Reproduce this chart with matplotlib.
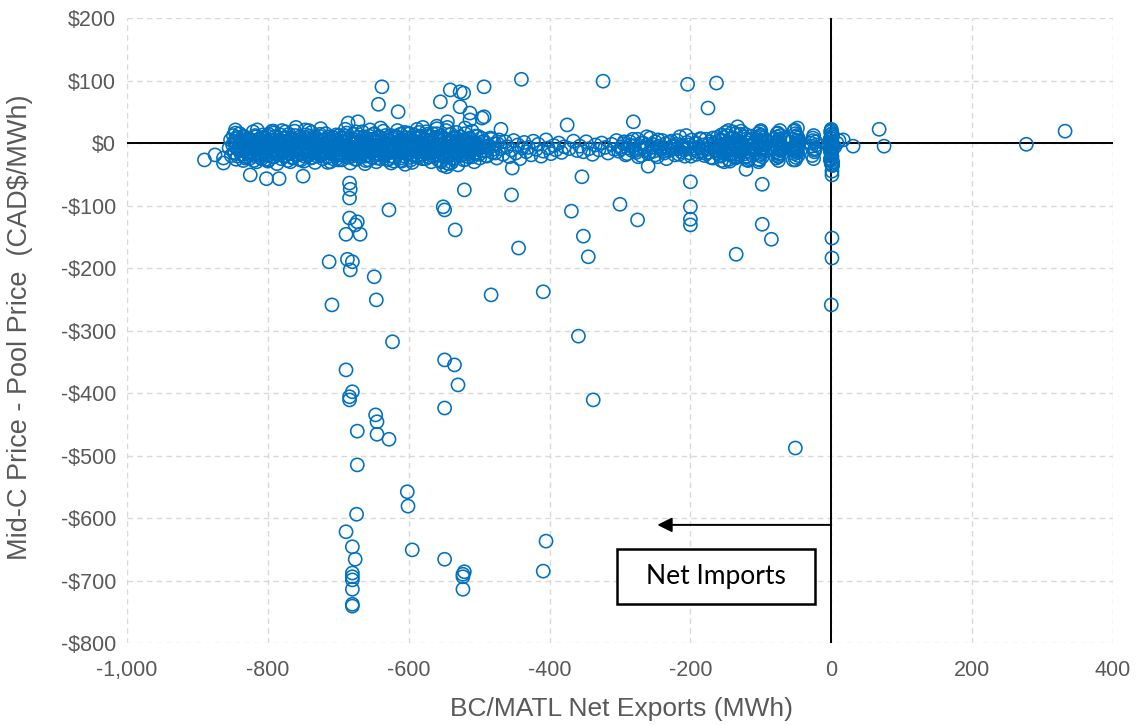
import matplotlib
matplotlib.use("Agg")
import matplotlib.pyplot as plt
from matplotlib.patches import Rectangle
from matplotlib.ticker import FuncFormatter

# scattered hours away from the main band
out_x = [-684, -683, -684, -628, -684, -673, -676, -689, -669, -713,
         -687, -680, -683, -649, -709, -646, -521, -454, -551, -549,
         -534, -444, -483, -409, -623, -689, -549, -535, -530, -549,
         -680, -684, -684, -647, -645, -673, -645, -628, -673, -602,
         -601, -674, -689, -680, -595, -676, -549, -521, -523, -523,
         -523, -680, -680, -680, -680, -680, -680, -405, -409, -369,
         -352, -345, -359, -338, -354, -300, -275, -200, -200, -200,
         -200, -135, -98, -98, -85, -51, 1, 1, 0, -121,
         -260, 1, 1, 1, -453, -890, -875, -863, -863, -846,
         -815, -825, -802, -784, -750, -794, -775, -747, -440, -324,
         -204, -163, -175, -638, -643, -615, -555, -541, -527, -522,
         -493, -527, -513, -496, -513, -469, -672, -686, -375, -281,
         -48, -133, 68, 75, 31, 17, 277, 332, -493, -545,
         -520, -560, -545, 8, 5, 11]
out_y = [-64, -74, -88, -107, -120, -126, -131, -146, -146, -190,
         -186, -190, -203, -214, -259, -251, -75, -83, -102, -107,
         -139, -168, -243, -238, -318, -363, -347, -355, -387, -424,
         -398, -406, -411, -435, -446, -461, -466, -474, -515, -558,
         -581, -594, -622, -646, -651, -666, -666, -686, -690, -694,
         -714, -688, -694, -699, -714, -738, -741, -637, -685, -109,
         -149, -182, -309, -411, -54, -98, -123, -102, -122, -131,
         -62, -178, -66, -130, -154, -488, -152, -184, -259, -42,
         -37, -35, -45, -51, -40, -27, -19, -24, -32, 21,
         21, -51, -57, -57, -53, 19, 18, 21, 102, 99,
         94, 96, 56, 90, 62, 50, 66, 85, 82, 80,
         90, 58, 48, 40, 37, 22, 34, 32, 29, 34,
         24, 26, 22, -5, -5, 5, -2, 19, 42, 34,
         24, 15, 25, 0, -6, 4]

# the dense band of hours close to zero spread
band_x = [-855, -853, -852, -850, -849, -848, -846, -845, -844, -842, -841, -840, -838, -837, -836, -835, -833, -832, -831, -830,
          -829, -828, -826, -825, -824, -823, -821, -820, -819, -817, -816, -815, -814, -812, -811, -810, -809, -807, -806, -805,
          -804, -803, -801, -800, -799, -798, -796, -795, -794, -792, -791, -790, -789, -787, -786, -785, -783, -782, -781, -780,
          -779, -777, -776, -775, -774, -772, -771, -770, -768, -767, -766, -765, -763, -762, -761, -760, -758, -757, -756, -755,
          -754, -752, -751, -750, -749, -747, -746, -745, -743, -742, -741, -740, -738, -737, -736, -735, -733, -732, -731, -730,
          -729, -727, -726, -725, -724, -722, -721, -720, -718, -717, -716, -715, -713, -712, -711, -710, -708, -707, -706, -705,
          -704, -702, -701, -700, -699, -697, -696, -695, -693, -692, -691, -690, -688, -687, -686, -685, -683, -682, -681, -680,
          -679, -677, -676, -675, -674, -672, -671, -670, -668, -667, -666, -665, -663, -662, -661, -660, -658, -657, -656, -655,
          -654, -652, -651, -650, -649, -647, -646, -645, -643, -642, -641, -640, -638, -637, -636, -635, -633, -632, -631, -630,
          -629, -627, -626, -625, -624, -622, -621, -620, -618, -617, -616, -615, -613, -612, -611, -610, -608, -607, -606, -605,
          -604, -602, -601, -600, -599, -597, -596, -595, -593, -592, -591, -590, -588, -587, -586, -585, -583, -582, -581, -580,
          -579, -577, -576, -575, -574, -572, -571, -570, -568, -567, -566, -565, -563, -562, -561, -560, -558, -557, -556, -555,
          -554, -552, -551, -550, -549, -547, -546, -545, -543, -542, -541, -540, -538, -537, -536, -535, -533, -532, -531, -530,
          -529, -527, -525, -524, -522, -520, -519, -517, -515, -514, -512, -510, -509, -507, -505, -504, -502, -501, -499, -497,
          -496, -493, -490, -487, -484, -481, -478, -475, -472, -469, -466, -463, -460, -457, -454, -451, -448, -445, -442, -439,
          -436, -433, -430, -426, -423, -419, -416, -412, -409, -405, -402, -398, -394, -391, -387, -383, -379, -372, -366, -361,
          -357, -352, -348, -344, -339, -335, -330, -326, -321, -317, -312, -308, -305, -302, -298, -295, -292, -289, -286, -283,
          -280, -277, -275, -272, -270, -267, -265, -262, -260, -257, -255, -252, -250, -247, -245, -242, -240, -237, -235, -232,
          -230, -227, -225, -222, -220, -218, -215, -213, -210, -208, -205, -203, -201, -198, -196, -193, -191, -188, -186, -184,
          -182, -180, -178, -176, -174, -172, -170, -168, -166, -164, -162, -160, -158, -156, -154, -152, -150, -148, -146, -144,
          -143, -141, -139, -137, -135, -133, -131, -129, -127, -125, -123, -121, -119, -117, -115, -113, -111, -140, -132, -124,
          -104, -102, -100, -98, -96, -103, -101, -99, -97, -104, -100, -96, -102, -98, -100, -103, -97, -101, -99, -100,
          -79, -77, -75, -73, -71, -78, -76, -74, -72, -80, -75, -70, -77, -73, -75, -78, -72, -76, -74, -75,
          -55, -53, -51, -49, -47, -45, -54, -52, -50, -48, -46, -53, -50, -47, -55, -51, -49, -52, -48, -50,
          -28, -26, -24, -22, -27, -25, -23, -29, -25, -21, -26, -24,
          0, 1, -1, 0, 2, -2, 0, 1, -1, 0, 2, -1, 0, 1, -2, 0, -1, 1, 0, 2, 0, -1, 1, 0]
band_y = [-8, 5, -20, -3, 12, -15, 0, -26, 7, -10, -4, 15, -18, 2, -12, -28, 9, -6, -22, 4,
          -14, 8, -2, -24, 3, -9, 18, -17, -5, 10, -30, -11, 1, -20, 6, -7, -25, 13, -13, -1,
          7, -19, -6, 11, -27, -3, -12, 4, -22, 16, -9, 0, -15, -33, 8, -4, -18, 2, -10, 20,
          -5, -21, 9, -13, 3, -28, -7, 14, -16, -1, 6, -24, -10, 19, -3, -19, 5, -12, -26, 1,
          10, -8, -17, 2, -29, -4, 13, -11, -20, 6, -2, -14, 17, -23, -6, 3, -31, -9, 8, -16,
          -3, 11, -19, -7, 4, -25, -12, 0, 15, -15, -5, -22, 7, -9, -30, 2, -13, 9, -18, -1,
          -10, 5, -24, -2, 12, -16, -6, -27, 8, -11, 1, -20, 16, -4, -14, 6, -32, -8, 3, -21,
          14, -7, -17, 0, -26, 9, -12, -3, -22, 4, 18, -9, -15, -1, -28, 7, -6, -19, 11, -11,
          -4, -23, 6, -13, 15, -8, -30, 1, -17, 10, -5, -25, 3, -10, 19, -20, -2, 8, -14, -27,
          5, -12, -21, 12, -6, -1, -29, -15, 9, -9, 20, -18, -3, 14, -24, -7, 2, -13, 17, -34,
          -8, 16, -16, -2, 7, -27, -11, 4, -20, 13, -5, -14, 22, -1, -23, 10, -9, -18, 3, 25,
          -13, 6, -25, 18, -4, -16, 11, -8, -30, 0, 15, -21, -6, 8, -12, 23, -3, -19, 5, -28,
          12, -10, -2, -22, 7, 20, -15, -5, -33, 3, -18, 14, -8, -26, 9, -1, -13, 17, -20, 4,
          -6, 10, -19, 2, -27, 15, -11, -3, -22, 6, -14, 19, -8, -30, 1, -17, 11, -4, -24, 8,
          -12, 3, -20, -5, 8, -15, -1, -24, 5, -9, -18, 2, -6, -22, -11, 4, -16, -3, -25, -8,
          1, -14, -7, -19, 3, -10, -2, -21, -13, 5, -8, -17, -4, -11, 0, -15, -6, -9, 3, -12,
          -5, -14, 2, -9, -18, -3, -11, 0, -7, -16, -2, -10, 4, -13, -6, -1, -19, -8, 2, -12,
          -4, -15, 6, -9, -20, 0, -11, -3, -17, 8, -7, -13, 2, -22, -5, -10, 4, -16, -1, -8,
          -12, 3, -6, -19, -2, -9, 10, -14, -4, -21, 1, -8, -16, 5, -11, -1, -18, -6, 7, -13,
          -3, -20, 6, -10, -15, 2, -7, -24, -1, -12, 9, -17, -5, -28, 4, -9, -14, 12, -2, -19,
          -6, 8, -16, -1, -22, 4, -10, 14, -3, -18, -8, 1, -13, -25, 6, -5, -11, 18, -20, 10,
          15, -20, 2, -10, 8, -26, -4, 12, -15, -1, 20, -6, 5, -22, -12, -30, 0, 18, -8, 9,
          -3, 10, -17, 4, -9, -24, 16, -1, -12, 7, -28, -6, 1, 20, -20, -14, 12, -8, -4, 2,
          6, -12, 15, -4, -20, 2, -27, -8, 10, -15, -1, 19, -23, 8, -10, -2, 12, -17, 4, -6,
          -5, 8, -14, 2, -20, 12, -9, 0, -25, -3, 4, -11,
          22, 15, 8, 2, -4, -10, -16, -22, -28, -33, 12, 18, -6, -12, 5, -20, -25, 10, -2, -30, 0, -14, -8, 20]

# more hours in the crowded part of the band
band2_x = [-848, -847, -845, -844, -843, -841, -840, -839, -837, -836, -835, -834, -832, -831, -830, -828, -827, -826, -825, -823,
           -822, -821, -820, -818, -817, -816, -814, -813, -812, -811, -809, -808, -807, -805, -804, -803, -802, -800, -799, -798,
           -797, -795, -794, -793, -791, -790, -789, -788, -786, -785, -784, -782, -781, -780, -779, -777, -776, -775, -773, -772,
           -771, -770, -768, -767, -766, -764, -763, -762, -761, -759, -758, -757, -755, -754, -753, -752, -750, -749, -748, -746,
           -745, -744, -743, -741, -740, -739, -737, -736, -735, -734, -732, -731, -730, -728, -727, -726, -725, -723, -722, -721,
           -719, -718, -717, -716, -714, -713, -712, -710, -709, -708, -707, -705, -704, -703, -701, -700, -699, -698, -696, -695,
           -694, -692, -691, -690, -689, -687, -686, -685, -684, -682, -681, -680, -678, -677, -676, -675, -673, -672, -671, -669,
           -668, -667, -666, -664, -663, -662, -660, -659, -658, -657, -655, -654, -653, -651, -650, -649, -648, -646, -645, -644,
           -642, -641, -640, -639, -637, -636, -635, -633, -632, -631, -630, -628, -627, -626, -624, -623, -622, -621, -619, -618,
           -617, -615, -614, -613, -612, -610, -609, -608, -606, -605, -604, -603, -601, -600, -599, -598, -596, -595, -594, -592,
           -591, -590, -589, -587, -586, -585, -584, -582, -581, -580, -578, -577, -576, -575, -573, -572, -571, -569, -568, -567,
           -566, -564, -563, -562, -560, -559, -558, -557, -555, -554, -553, -551, -550, -549, -548, -546, -545, -544, -542, -541,
           -540, -539, -537, -536, -535, -533, -532, -531, -530, -528, -527, -526, -524, -523, -522, -521, -519, -518, -517, -515,
           -514, -513, -511, -510, -509, -508, -506, -505, -503, -502, -500, -498, -495, -492, -489, -486, -483, -480, -477, -474,
           -846, -820, -792, -768, -742, -715, -690, -662, -640, -610, -585, -560, -700, -655, -625, -760, -800, -725, -675, -595,
           -298, -294, -290, -286, -282, -278, -274, -270, -266, -262, -258, -254, -250, -246, -242, -238, -234, -230, -226, -222,
           -219, -216, -212, -209, -206, -202, -199, -195, -192, -189, -185, -181, -178, -174, -171, -168, -165, -162, -159, -156,
           -160, -158, -157, -155, -153, -151, -149, -147, -145, -142, -138, -136, -134, -130, -128, -126, -122, -120, -118, -116,
           -114, -112, -110, -156, -150, -144, -136, -128, -120, -112, -152, -146, -138, -130, -122, -116, -148, -126, -142, -118,
           -100, -98, -102, -100, -99, -76, -74, -75, -77, -73, -50, -52, -48, -51, -49, 0, 1, -1, 0, 2]
band2_y = [2, -16, -7, 9, -21, -3, 5, -12, -18, 0, 11, -9, -24, -5, 3, -14, 7, -19, -1, -10,
           -6, 4, -20, 12, -11, -2, -17, 6, -8, -23, 1, -13, 9, -4, -16, -26, 3, -9, 14, -19,
           5, -7, -15, 0, -22, 10, -3, -11, -18, 4, -8, 13, -25, -1, -14, 7, -5, -20, 1, -12,
           -9, 3, -17, 8, -4, -23, -12, 0, 12, -7, -19, 5, -2, -15, -27, 6, -10, -1, -21, 9,
           -13, 2, -6, -18, 11, -24, -3, 7, -10, -16, 0, -8, -21, 4, -13, 14, -5, -19, -1, -11,
           6, -14, -4, -22, 1, 10, -9, -17, -2, -25, 5, -12, -7, 13, -19, 0, -10, -15, 8, -5,
           -20, 2, -8, -13, 11, -3, -23, 7, -16, -6, 0, -18, -11, 5, -26, -1, 9, -14, -7, -21,
           1, -9, -17, 10, -4, -21, -12, 3, -7, -27, 6, -15, -2, -10, 14, -19, -5, 2, -24, -11,
           -3, 8, -14, -20, -6, 1, -11, 12, -18, -8, 4, -25, -1, -15, 7, -9, -4, -22, 11, -13,
           -7, -17, 3, -10, -28, 6, -2, -13, -21, 9, -5, 0, -16, -8, 15, -23, -1, -12, 4, -19,
           8, -11, -3, -20, 2, -14, -7, 11, -25, -1, -9, 5, -17, -4, 14, -12, -22, 0, -6, -15,
           3, -8, -19, 9, -2, -13, -27, 6, -10, -30, -4, -36, -16, 1, -22, -38, -7, -33, -12, 4,
           -18, -31, -5, 7, -24, -11, 2, -15, -35, -3, 10, -20, -8, -1, -14, 5, -26, -9, 3, -17,
           -6, 8, -12, -22, 1, -4, -15, 11, -9, -2, -18, -7, 2, -13, -21, -4, 6, -10, -16, -1,
           16, -28, 19, -30, 20, -31, 22, -33, 24, -29, 17, 27, -27, 21, -32, 25, -29, 23, 18, -31,
           -9, 2, -17, -4, 6, -12, -22, 0, -7, 10, -15, -2, -19, 5, -8, -13, -25, 1, -10, -5,
           4, -18, -6, -11, 12, -3, -21, -8, 0, -14, 6, -9, -17, -2, -23, 8, -12, -5, -20, 3,
           -12, 5, -21, -3, 9, -16, -8, 1, -26, -10, -1, 15, -7, -18, 2, -13, -22, 7, -4, -15,
           11, -9, 0, 13, 17, -29, -24, 19, -27, -20, -30, 20, 8, -5, 14, 4, -2, -11, -18, -28,
           -17, 4, -27, 13, -3, -10, 6, -22, 15, -16, -13, 21, -9, -27, 0, -18, 7, -26, 14, -36]

x_ticks = [-1000, -800, -600, -400, -200, 0, 200, 400]
y_ticks = [200, 100, 0, -100, -200, -300, -400, -500, -600, -700, -800]

blue = "#0070C0"
grey = "#595959"

plt.rcParams["font.family"] = ["Liberation Sans", "DejaVu Sans"]

fig = plt.figure(figsize=(11.38, 7.25), dpi=100)
ax = fig.add_axes([0.1116, 0.1131, 0.8664, 0.862])

for xs, ys in [(band_x, band_y), (band2_x, band2_y), (out_x, out_y)]:
    ax.scatter(xs, ys, s=90, facecolors="none", edgecolors=blue, linewidths=1.15, zorder=3)

ax.axhline(0, color="black", lw=1.4, zorder=2)
ax.axvline(0, color="black", lw=1.4, zorder=2)

ax.set_xlim(-1000, 400)
ax.set_ylim(-800, 200)
ax.set_xticks(x_ticks)
ax.set_yticks(y_ticks)
ax.xaxis.set_major_formatter(FuncFormatter(lambda v, p: f"{int(v):,}"))
ax.yaxis.set_major_formatter(FuncFormatter(lambda v, p: f"-${abs(int(v))}" if v < 0 else f"${int(v)}"))
ax.tick_params(length=0, labelsize=15.5, labelcolor=grey)
ax.tick_params(axis="x", pad=12)
ax.tick_params(axis="y", pad=8)
ax.grid(True, color="#D9D9D9", linestyle=(0, (4, 3)), lw=1.0, zorder=0)
ax.set_axisbelow(True)
for s in ax.spines.values():
    s.set_visible(False)

# net imports arrow and label box
ax.annotate("", xy=(-247, -611), xytext=(0, -611),
            arrowprops=dict(arrowstyle="-|>", color="black", lw=1.4, mutation_scale=22, shrinkA=0, shrinkB=0),
            zorder=4)
ax.add_patch(Rectangle((-304, -738), 281, 88, facecolor="white", edgecolor="black", lw=1.8, zorder=5))
ax.text(-163.5, -694, "Net Imports", ha="center", va="center", fontsize=19, family=["Lato", "DejaVu Sans"],
        color="black", zorder=6)

fig.text(0.546, 0.022, "BC/MATL Net Exports (MWh)", ha="center", va="center", fontsize=19, color=grey)
fig.text(0.018, 0.548, "Mid-C Price - Pool Price  (CAD$/MWh)", ha="center", va="center", rotation=90,
         fontsize=19.5, color=grey)

fig.savefig("out.png", dpi=100)
